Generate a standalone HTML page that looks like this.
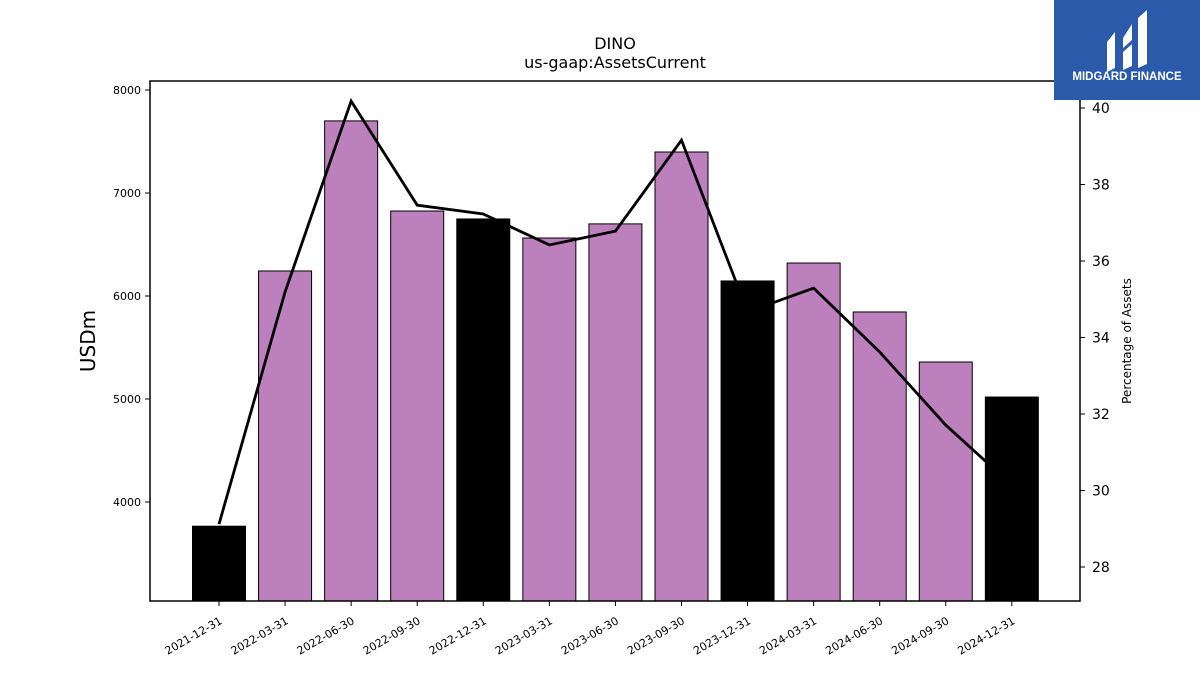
<!DOCTYPE html>
<html><head><meta charset="utf-8"><style>
body{margin:0;background:#fff;width:1200px;height:675px;overflow:hidden;font-family:"Liberation Sans","DejaVu Sans",sans-serif}
</style></head><body>
<svg id="chart" width="1200" height="675" xmlns="http://www.w3.org/2000/svg" font-family="DejaVu Sans, Liberation Sans, sans-serif">
<text x="615" y="49" text-anchor="middle" font-size="16">DINO</text>
<text x="615" y="68" text-anchor="middle" font-size="16">us-gaap:AssetsCurrent</text>
<g id="bars"></g><g id="line"></g><g id="blackbars"></g>
<rect x="150" y="81" width="930" height="520" fill="none" stroke="#000" stroke-width="1.5"/>
<g id="yl"></g><g id="yr"></g><g id="xt"></g>
<text transform="translate(95,341) rotate(-90)" text-anchor="middle" font-size="20">USDm</text>
<text transform="translate(1131,341) rotate(-90)" text-anchor="middle" font-size="12">Percentage of Assets</text>
<g>
<rect x="1054" y="0" width="146" height="100" fill="#2c5aab"/>
<path d="M1107 42 L1115 32 L1115 68 L1107 72 Z M1123 38 L1132 24 L1132 40 L1123 48 Z M1123 52 L1132 44 L1132 66 L1123 70 Z M1138 18 L1147 10 L1147 64 L1138 68 Z" fill="#fff"/>
<text x="1127" y="80" text-anchor="middle" font-size="11.5" font-weight="bold" fill="#fff" font-family="Liberation Sans, sans-serif">MIDGARD FINANCE</text>
</g>
</svg>
<script>
const categories=["2021-12-31","2022-03-31","2022-06-30","2022-09-30","2022-12-31","2023-03-31","2023-06-30","2023-09-30","2023-12-31","2024-03-31","2024-06-30","2024-09-30","2024-12-31"];
const barValues=[3765,6243,7700,6825,6748,6563,6700,7398,6146,6320,5845,5359,5019];
const pctValues=[29.12,35.19,40.18,37.46,37.23,36.42,36.78,39.16,34.67,35.29,33.62,31.71,30.14];
const annual=[true,false,false,false,true,false,false,false,true,false,false,false,true];
const leftTicks=[4000,5000,6000,7000,8000];
const rightTicks=[28,30,32,34,36,38,40];
const NS="http://www.w3.org/2000/svg";
const X0=150,X1=1080,Y0=601,Y1=81;
const yL=v=>90+(8000-v)*0.103;
const yR=v=>108+(40-v)*38.25;
const step=(X1-X0)/categories.length*0.9955;
const xC=i=>219+i*66.07;
function mk(p,t,a){const e=document.createElementNS(NS,t);for(const k in a)e.setAttribute(k,a[k]);document.getElementById(p).appendChild(e);return e;}
categories.forEach((c,i)=>{
  const y=yL(barValues[i]);
  const b=mk(annual[i]?"blackbars":"bars","rect",{x:xC(i)-26.5,y:y,width:53,height:Y0-y,fill:annual[i]?"#000":"#bc80bd",stroke:"#000","stroke-width":1});
  
  
  mk("xt","line",{x1:xC(i),x2:xC(i),y1:Y0,y2:Y0+5,stroke:"#000"});
  const t=mk("xt","text",{transform:`translate(${xC(i)+4},${Y0+22}) rotate(-30)`,"text-anchor":"end","font-size":11});
  t.textContent=c;
  
  
});
const pl=mk("line","polyline",{points:pctValues.map((v,i)=>xC(i)+","+yR(v)).join(" "),fill:"none",stroke:"#000","stroke-width":2.8});


leftTicks.forEach(v=>{
  mk("yl","line",{x1:X0-5,x2:X0,y1:yL(v),y2:yL(v),stroke:"#000"});
  const t=mk("yl","text",{x:X0-9,y:yL(v)+4,"text-anchor":"end","font-size":11});
  t.textContent=v;
  
  
});
rightTicks.forEach(v=>{
  mk("yr","line",{x1:X1,x2:X1+5,y1:yR(v),y2:yR(v),stroke:"#000"});
  const t=mk("yr","text",{x:X1+12,y:yR(v)+5,"font-size":14});
  t.textContent=v;
  
  
});
</script>
</body></html>
